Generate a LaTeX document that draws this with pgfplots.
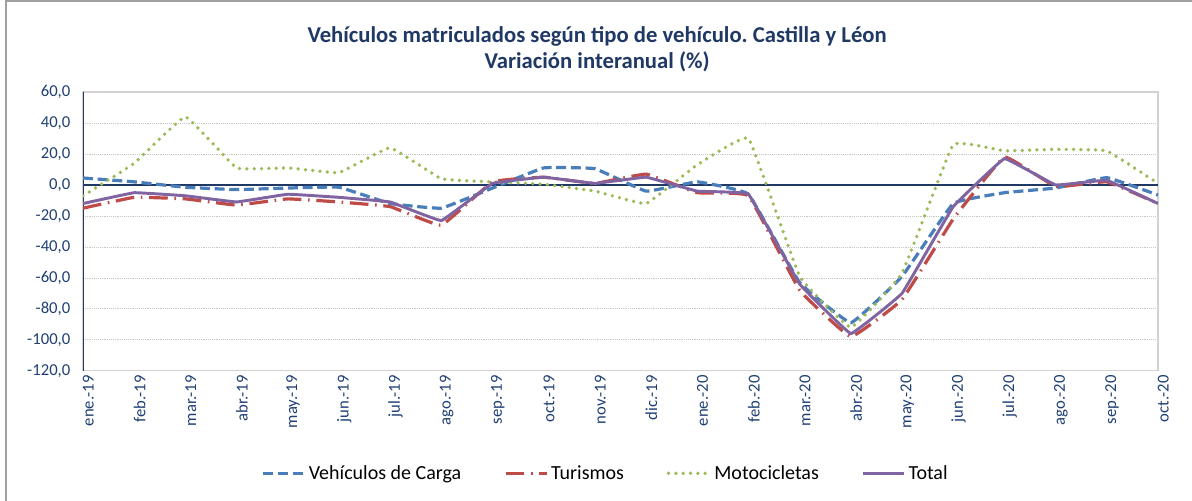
\documentclass[border=0pt]{standalone}
\usepackage{fontspec}
\setmainfont{Carlito}
\usepackage{pgfplots}
\usepackage{pgfplotstable}
\pgfplotsset{compat=1.18}
\frenchspacing

\definecolor{navy}{HTML}{1F3864}
\definecolor{ticktext}{HTML}{1F3F73}
\definecolor{carga}{HTML}{4A7EBB}
\definecolor{turismos}{HTML}{BE4B48}
\definecolor{moto}{HTML}{9BBB59}
\definecolor{total}{HTML}{8064A2}
\definecolor{frame}{HTML}{A0A0A0}

% variacion interanual (%), ene.-19 (0) ... oct.-20 (21)
\pgfplotstableread{
m  carga turismos moto total
0    4.5   -15     -7   -12
1    2.0    -8     14    -5
2   -1.5    -9     44    -7
3   -3.0   -13     11   -11
4   -2.0    -9     11    -6
5   -1.5   -11      8    -8
6  -12.0   -14     24   -11
7  -15.0   -26      4   -23
8   -2.0     2      2     1
9   11.0     5      0.5   5
10  10.5     1     -4     1
11  -4.0     7    -12     5
12   2.0    -5     13    -4
13  -6.0    -7     30    -6
14 -63.0   -68    -59   -64
15 -89.0   -98    -92   -96
16 -59.0   -74    -57   -70
17 -12.0   -22     26   -14
18  -5.0    18     22    17
19  -2.0    -1     23     0
20   4.7     2     22     3
21  -6.5   -12      1   -12
}\datos

\begin{document}
\begin{tikzpicture}
\begin{axis}[
    name=ax,
    scale only axis,
    width=806pt, height=209pt,
    xmin=0, xmax=21,
    ymin=-120, ymax=60,
    ytick={-120,-100,...,60},
    xtick={0,...,21},
    xticklabels={ene.-19,feb.-19,mar.-19,abr.-19,may.-19,jun.-19,jul.-19,ago.-19,sep.-19,oct.-19,nov.-19,dic.-19,
                 ene.-20,feb.-20,mar.-20,abr.-20,may.-20,jun.-20,jul.-20,ago.-20,sep.-20,oct.-20},
    x tick label style={rotate=90, anchor=east, text=ticktext, font=\fontsize{12.5}{12.5}\selectfont, yshift=-4pt},
    y tick label style={text=ticktext, font=\fontsize{12.5}{12.5}\selectfont, xshift=-6pt},
    yticklabel style={/pgf/number format/.cd, fixed, fixed zerofill, precision=1, use comma, assume math mode=true},
    tick style={draw=none},
    axis line style={draw=gray!35, line width=0.8pt},
    ymajorgrids,
    grid style={densely dotted, draw=gray!45, line width=0.5pt},
    legend columns=4,
    legend style={at={(0.4865,-0.368)}, anchor=center, draw=none, fill=none,
        font=\fontsize{15}{15}\selectfont,
        /tikz/every even column/.append style={column sep=30pt}},
    legend image code/.code={\draw[#1] (0pt,0pt) -- (31pt,0pt);},
]
\draw[navy, line width=1.2pt] (rel axis cs:0,0) -- (rel axis cs:0,1);
\draw[navy, line width=1.5pt] (axis cs:0,0) -- (axis cs:21,0);

\addplot[carga, line width=2.4pt, dash pattern=on 7.5pt off 3.5pt, smooth, tension=0.15]
    table[x=m, y=carga] {\datos};
\addlegendentry{Vehículos de Carga}
\addplot[turismos, line width=2.4pt, dash pattern=on 14pt off 5pt on 1.2pt off 5pt, smooth, tension=0.15]
    table[x=m, y=turismos] {\datos};
\addlegendentry{Turismos}
\addplot[moto, line width=2.8pt, line cap=round, dash pattern=on 0pt off 5.5pt, smooth, tension=0.15]
    table[x=m, y=moto] {\datos};
\addlegendentry{Motocicletas}
\addplot[total, line width=2.2pt, smooth, tension=0.1]
    table[x=m, y=total] {\datos};
\addlegendentry{Total}
\end{axis}

\node[font=\bfseries\fontsize{17}{19}\selectfont, text=navy, align=center]
    at ([xshift=385.5pt, yshift=32pt]ax.north west)
    {Vehículos matriculados según tipo de vehículo. Castilla y Léon\\Variación interanual (\%)};

\draw[frame, line width=1.2pt] ([xshift=-57.75pt, yshift=-97.5pt]ax.south west)
    -- ([xshift=-57.75pt, yshift=68.25pt]ax.north west)
    -- ([xshift=25.5pt, yshift=68.25pt]ax.north east);

\pgfresetboundingbox
\path[use as bounding box] ([xshift=-62.25pt, yshift=-97.5pt]ax.south west)
    rectangle ([xshift=25.5pt, yshift=69pt]ax.north east);
\end{tikzpicture}
\end{document}
